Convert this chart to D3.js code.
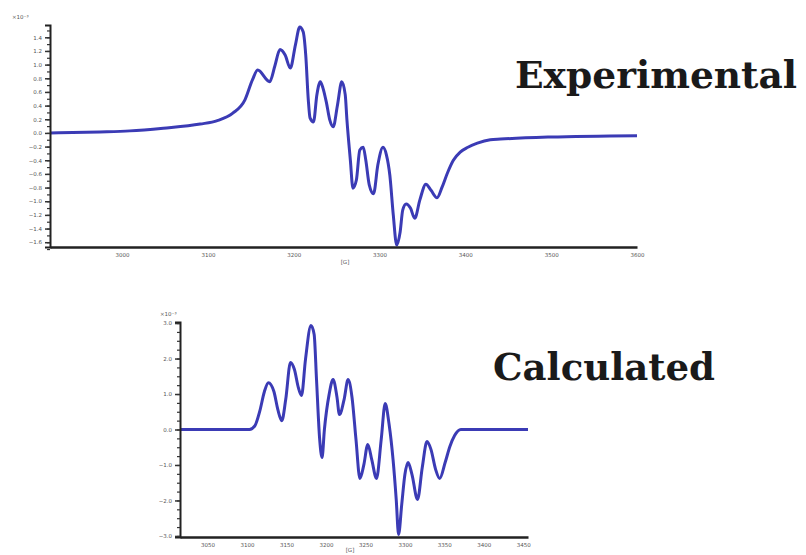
<!DOCTYPE html>
<html>
<head>
<meta charset="utf-8">
<script src="https://cdn.jsdelivr.net/npm/d3@7"></script>
<style>
  body { margin: 0; background: #fff; }
  .tick-label { font-family: "DejaVu Sans", sans-serif; font-size: 5.5px; fill: #555; }
  .title { font-family: "DejaVu Serif", serif; font-weight: bold; font-size: 38px; fill: #1a1a1a; }
</style>
</head>
<body>
<svg id="chart" width="806" height="555"></svg>
<script>
// experimental spectrum: field (G) vs. signal
const expField = [2916, 2974, 3009, 3048, 3091, 3111, 3129, 3143, 3152, 3158, 3172, 3178, 3184, 3190, 3196,
  3202, 3207, 3211, 3214, 3217, 3219, 3223, 3227, 3231, 3234, 3238, 3242, 3246, 3251, 3256, 3260, 3262, 3266,
  3269, 3273, 3277, 3281, 3284, 3288, 3293, 3298, 3304, 3308, 3312, 3316, 3320, 3324, 3327, 3331, 3336, 3341,
  3347, 3354, 3360, 3367, 3373, 3379, 3386, 3394, 3403, 3414, 3429, 3441, 3499, 3600]
const expSignal = [0, 0.015, 0.03, 0.07, 0.13, 0.18, 0.29, 0.48, 0.78, 0.92, 0.75, 0.98, 1.22, 1.14, 0.95,
  1.29, 1.55, 1.48, 1.14, 0.48, 0.22, 0.16, 0.56, 0.75, 0.66, 0.45, 0.19, 0.09, 0.41, 0.75, 0.56, 0.19, -0.40,
  -0.81, -0.69, -0.25, -0.21, -0.40, -0.76, -0.89, -0.47, -0.21, -0.32, -0.62, -1.20, -1.64, -1.45, -1.13, -1.04, -1.10, -1.25,
  -0.98, -0.75, -0.84, -0.95, -0.79, -0.59, -0.40, -0.28, -0.21, -0.15, -0.10, -0.09, -0.06, -0.04]

// calculated spectrum
const calcField = [3015, 3103, 3110, 3116, 3122, 3127, 3134, 3139, 3144, 3149, 3155, 3160, 3165, 3169, 3174, 3181,
  3185, 3188, 3192, 3195, 3198, 3204, 3209, 3214, 3217, 3223, 3228, 3233, 3238, 3243, 3248, 3253, 3258, 3264,
  3270, 3275, 3280, 3285, 3289, 3292, 3296, 3300, 3304, 3309, 3316, 3322, 3328, 3333, 3339, 3344, 3351, 3357,
  3363, 3371, 3456]
const calcSignal = [0, 0, 0.11, 0.51, 1.07, 1.32, 1.07, 0.56, 0.25, 0.85, 1.89, 1.69, 1.18, 0.96, 1.97, 2.93,
  2.68, 1.41, -0.28, -0.79, 0, 0.99, 1.41, 0.90, 0.42, 0.85, 1.41, 0.90, -0.28, -1.38, -0.99, -0.42, -0.85, -1.38,
  -0.28, 0.73, 0.14, -0.85, -1.97, -2.96, -2.11, -1.27, -0.93, -1.27, -1.97, -1.07, -0.34, -0.56, -1.13, -1.38, -0.93, -0.48,
  -0.17, 0, 0]

const expXTicks = [3000, 3100, 3200, 3300, 3400, 3500, 3600]
const expYTicks = d3.range(-1.6, 1.41, 0.2)
const calcXTicks = [3050, 3100, 3150, 3200, 3250, 3300, 3350, 3400, 3450]
const calcYTicks = [-3, -2, -1, 0, 1, 2, 3]

const svg = d3.select("#chart")
const lineColor = "#3b3bb5"

function drawPanel(opts) {
  const { x, y, field, signal, xTicks, yTicks, yMinor, yFmt, unitLabel, xLabel } = opts
  const g = svg.append("g")

  // spectrum
  const line = d3.line()
    .x((d) => x(d[0]))
    .y((d) => y(d[1]))
    .curve(d3.curveMonotoneX)
  g.append("path")
    .datum(field.map((f, i) => [f, signal[i]]))
    .attr("fill", "none")
    .attr("stroke", lineColor)
    .attr("stroke-width", 3)
    .attr("stroke-linejoin", "round")
    .attr("d", line)

  const x0 = x.range()[0]
  const yBottom = y.range()[0]

  // y axis
  const yAxis = d3.axisLeft(y).tickValues(yTicks).tickSize(5).tickFormat(yFmt)
  const ya = g.append("g").attr("transform", `translate(${x0},0)`).call(yAxis)
  ya.select(".domain").attr("stroke", "#222").attr("stroke-width", 2)
  ya.selectAll(".tick line").attr("stroke", "#333").attr("stroke-width", 1.5)
  ya.selectAll(".tick text").attr("class", "tick-label").attr("x", -8)
  g.append("g").attr("transform", `translate(${x0},0)`)
    .call(d3.axisLeft(y).tickValues(yMinor).tickSize(3).tickFormat(""))
    .call((s) => s.select(".domain").remove())
    .selectAll(".tick line").attr("stroke", "#333").attr("stroke-width", 1.2)

  // x axis
  const xAxis = d3.axisBottom(x).tickValues(xTicks).tickSize(0).tickPadding(6).tickFormat(d3.format("d"))
  const xa = g.append("g").attr("transform", `translate(0,${yBottom})`).call(xAxis)
  xa.select(".domain").attr("stroke", "#222").attr("stroke-width", 2.5)
  xa.selectAll(".tick text").attr("class", "tick-label")

  // unit labels
  g.append("text").attr("class", "tick-label")
    .attr("x", unitLabel[0]).attr("y", unitLabel[1]).text(unitLabel[2])
  g.append("text").attr("class", "tick-label").attr("text-anchor", "middle")
    .attr("x", xLabel[0]).attr("y", xLabel[1]).text(xLabel[2])
}

// top panel: experimental
const xExp = d3.scaleLinear().domain([2916, 3600]).range([50, 637])
const yExp = d3.scaleLinear().domain([-1.67, 1.58]).range([247, 25])
drawPanel({
  x: xExp, y: yExp, field: expField, signal: expSignal,
  xTicks: expXTicks, yTicks: expYTicks,
  yMinor: d3.range(-1.7, 1.55, 0.1),
  yFmt: d3.format(".1f"),
  unitLabel: [12, 19, "×10⁻³"], xLabel: [345, 264, "[G]"]
})

// bottom panel: calculated
const xCalc = d3.scaleLinear().domain([3015, 3456]).range([180, 528])
const yCalc = d3.scaleLinear().domain([-3.03, 3.03]).range([537, 322])
drawPanel({
  x: xCalc, y: yCalc, field: calcField, signal: calcSignal,
  xTicks: calcXTicks, yTicks: calcYTicks,
  yMinor: d3.range(-3, 3.01, 0.25),
  yFmt: d3.format(".1f"),
  unitLabel: [160, 316, "×10⁻³"], xLabel: [350, 552, "[G]"]
})

// titles
svg.append("text").attr("class", "title")
  .attr("x", 515).attr("y", 88)
  .attr("textLength", 282).attr("lengthAdjust", "spacingAndGlyphs")
  .text("Experimental")
svg.append("text").attr("class", "title")
  .attr("x", 493).attr("y", 380)
  .attr("textLength", 222).attr("lengthAdjust", "spacingAndGlyphs")
  .text("Calculated")
</script>
</body>
</html>
